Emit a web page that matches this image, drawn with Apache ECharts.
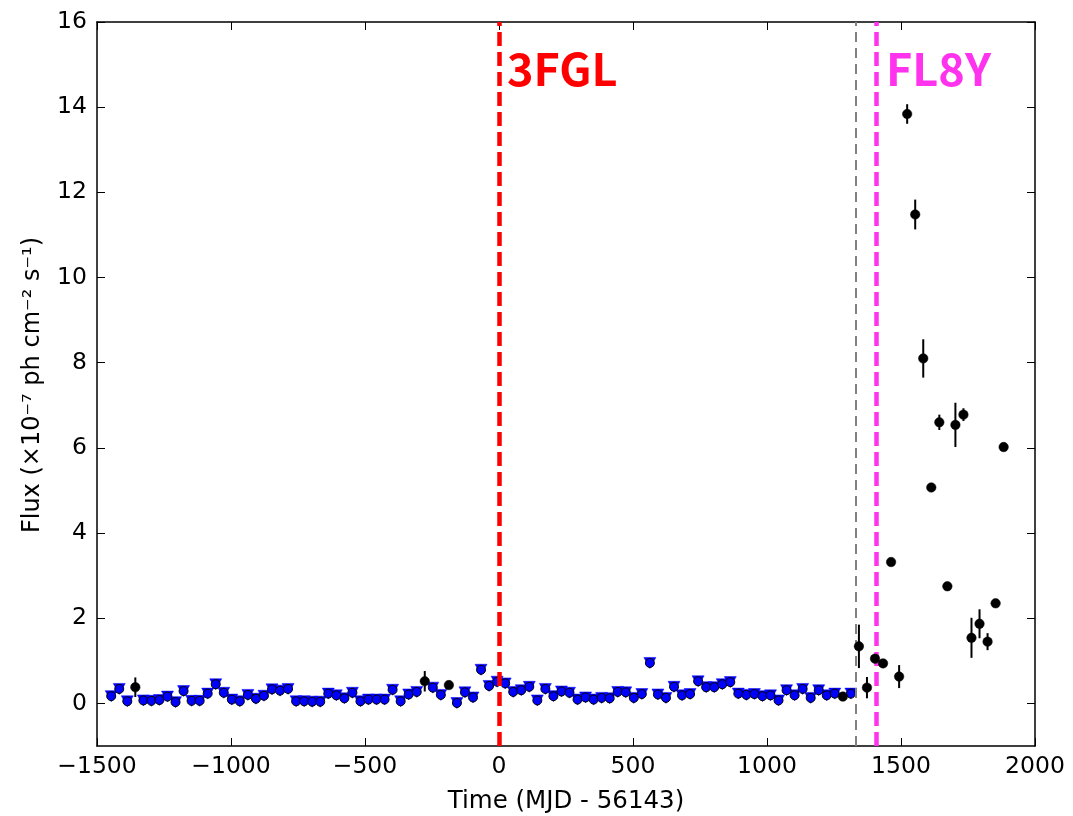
<!DOCTYPE html>
<html>
<head>
<meta charset="utf-8">
<script src="https://cdn.jsdelivr.net/npm/echarts@6/dist/echarts.min.js"></script>
<style>
html,body{margin:0;padding:0;background:#fff;}
#main{width:1073px;height:816px;}
</style>
</head>
<body>
<div id="main"></div>
<script>
// Upper limits (blue down triangles)
const ulTime = [-1447,-1417,-1387,-1327,-1297,-1267,-1237,-1207,-1177,-1147,-1117,-1087,-1057,-1027,-997,-967,-937,-907,-877,-847,-817,-787,-757,-727,-697,-667,-637,-607,-577,-547,-517,-487,-457,-427,-397,-367,-337,-307,-247,-217,-157,-127,-97,-67,-37,-7,23,53,83,113,143,173,203,233,263,293,323,353,383,413,443,473,503,533,563,593,623,653,683,713,743,773,803,833,863,893,923,953,983,1013,1043,1073,1103,1133,1163,1193,1223,1253,1313];
const ulFlux = [0.17,0.34,0.05,0.07,0.06,0.08,0.16,0.03,0.29,0.06,0.06,0.23,0.45,0.25,0.09,0.05,0.20,0.11,0.18,0.33,0.30,0.34,0.05,0.05,0.04,0.04,0.23,0.19,0.12,0.25,0.05,0.09,0.09,0.09,0.32,0.05,0.21,0.27,0.37,0.20,0.01,0.26,0.14,0.79,0.41,0.51,0.47,0.27,0.31,0.39,0.07,0.34,0.17,0.28,0.25,0.09,0.14,0.09,0.13,0.12,0.27,0.26,0.13,0.22,0.95,0.21,0.13,0.39,0.19,0.22,0.52,0.38,0.38,0.45,0.50,0.23,0.20,0.22,0.17,0.19,0.07,0.31,0.19,0.34,0.13,0.31,0.19,0.23,0.23];

// Detections (black points with error bars)
const detTime = [-1357,-277,-187,1283,1343,1373,1403,1433,1463,1493,1523,1553,1583,1613,1643,1673,1703,1733,1763,1793,1823,1853,1883];
const detFlux = [0.38,0.52,0.43,0.16,1.34,0.37,1.05,0.94,3.32,0.63,13.84,11.48,8.10,5.07,6.60,2.75,6.54,6.78,1.54,1.87,1.45,2.35,6.02];
const detErr  = [0.23,0.24,0.05,0.03,0.51,0.25,0.10,0.05,0.05,0.27,0.23,0.35,0.45,0.10,0.18,0.05,0.52,0.15,0.47,0.34,0.20,0.05,0.10];

// Reference epochs
const line3FGL = 0;
const lineGray = 1333;
const lineFL8Y = 1408;

const yTicks = [0,2,4,6,8,10,12,14,16];

const chart = echarts.init(document.getElementById('main'), null, {renderer:'canvas'});

const ulData = ulTime.map((t,i)=>[t, ulFlux[i]]);
const detData = detTime.map((t,i)=>[t, detFlux[i]]);
const errData = detTime.map((t,i)=>[t, detFlux[i], detErr[i]]);

const tickFont = {fontFamily:'DejaVu Sans', fontSize:23.5, color:'#000'};
const fmtX = v => (v<0 ? '\u2212'+Math.abs(v) : String(v));

const option = {
  animation:false,
  backgroundColor:'#fff',
  grid:{left:97, right:38, top:22, bottom:70, containLabel:false, outerBoundsMode:'none'},
  xAxis:[{
    type:'value', min:-1500, max:2000, interval:500, position:'bottom',
    axisLine:{onZero:false, lineStyle:{color:'#000', width:1.5}},
    axisTick:{inside:true, length:8, lineStyle:{color:'#000', width:1}},
    axisLabel:Object.assign({margin:9, formatter:fmtX}, tickFont),
    splitLine:{show:false},
    name:'Time (MJD - 56143)', nameLocation:'middle', nameGap:43,
    nameTextStyle:{fontFamily:'DejaVu Sans', fontSize:24.5, color:'#000'}
  },{
    type:'value', min:-1500, max:2000, interval:500, position:'top',
    axisLine:{onZero:false, lineStyle:{color:'#000', width:1.5}},
    axisTick:{inside:true, length:8, lineStyle:{color:'#000', width:1}},
    axisLabel:{show:false}, splitLine:{show:false}
  }],
  yAxis:[{
    type:'value', min:-1, max:16, position:'left',
    axisLine:{onZero:false, lineStyle:{color:'#000', width:1.5}},
    axisTick:{inside:true, length:8, customValues:yTicks, lineStyle:{color:'#000', width:1}},
    axisLabel:Object.assign({margin:10, customValues:yTicks}, tickFont),
    splitLine:{show:false}
  },{
    type:'value', min:-1, max:16, position:'right',
    axisLine:{onZero:false, lineStyle:{color:'#000', width:1.5}},
    axisTick:{inside:true, length:8, customValues:yTicks, lineStyle:{color:'#000', width:1}},
    axisLabel:{show:false}, splitLine:{show:false}
  }],
  series:[
    {
      type:'scatter', name:'lines', data:[], silent:true,
      markLine:{
        silent:true, symbol:'none', label:{show:false}, animation:false,
        data:[
          {xAxis:lineGray, lineStyle:{color:'#808080', width:2, type:[10,6], opacity:1}},
          {xAxis:line3FGL, lineStyle:{color:'#ff0000', width:4.5, type:[14,6], opacity:1}},
          {xAxis:lineFL8Y, lineStyle:{color:'#ff33ee', width:4.5, type:[14,6], opacity:1}}
        ]
      }
    },
    {
      type:'scatter', name:'ul-tri', data:ulData, symbol:'triangle', symbolRotate:180,
      symbolSize:[12,11],
      itemStyle:{color:'#0000ff', borderColor:'#0000ff', borderWidth:0.5, opacity:1}, z:3
    },
    {
      type:'scatter', name:'ul-circ', data:ulData, symbol:'circle', symbolSize:9,
      itemStyle:{color:'#0000ff', borderColor:'#000', borderWidth:1, opacity:1}, z:4
    },
    {
      type:'custom', name:'err', data:errData, z:5,
      renderItem:function(params, api){
        const t = api.value(0), v = api.value(1), e = api.value(2);
        const p1 = api.coord([t, v-e]);
        const p2 = api.coord([t, v+e]);
        return {type:'line', shape:{x1:p1[0], y1:p1[1], x2:p2[0], y2:p2[1]},
                style:{stroke:'#000', lineWidth:2}};
      }
    },
    {
      type:'scatter', name:'det', data:detData, symbol:'circle', symbolSize:9.5,
      itemStyle:{color:'#000', borderColor:'#000', borderWidth:0.5, opacity:1}, z:6
    }
  ],
  graphic:[
    {type:'text', left:507, top:46, z:10,
     style:{text:'3FGL', fill:'#ff0000', font:'bold 45px "Noto Sans CJK JP"'}},
    {type:'text', left:886, top:46, z:10,
     style:{text:'FL8Y', fill:'#ff33ee', font:'bold 45px "Noto Sans CJK JP"'}},
    {type:'text', x:33, y:385, rotation:Math.PI/2, z:10,
     style:{text:'Flux (\u00d710\u207b\u2077 ph cm\u207b\u00b2 s\u207b\u00b9)', fill:'#000',
            font:'24px "DejaVu Sans"', align:'center', verticalAlign:'middle'}}
  ]
};
chart.setOption(option);
</script>
</body>
</html>
